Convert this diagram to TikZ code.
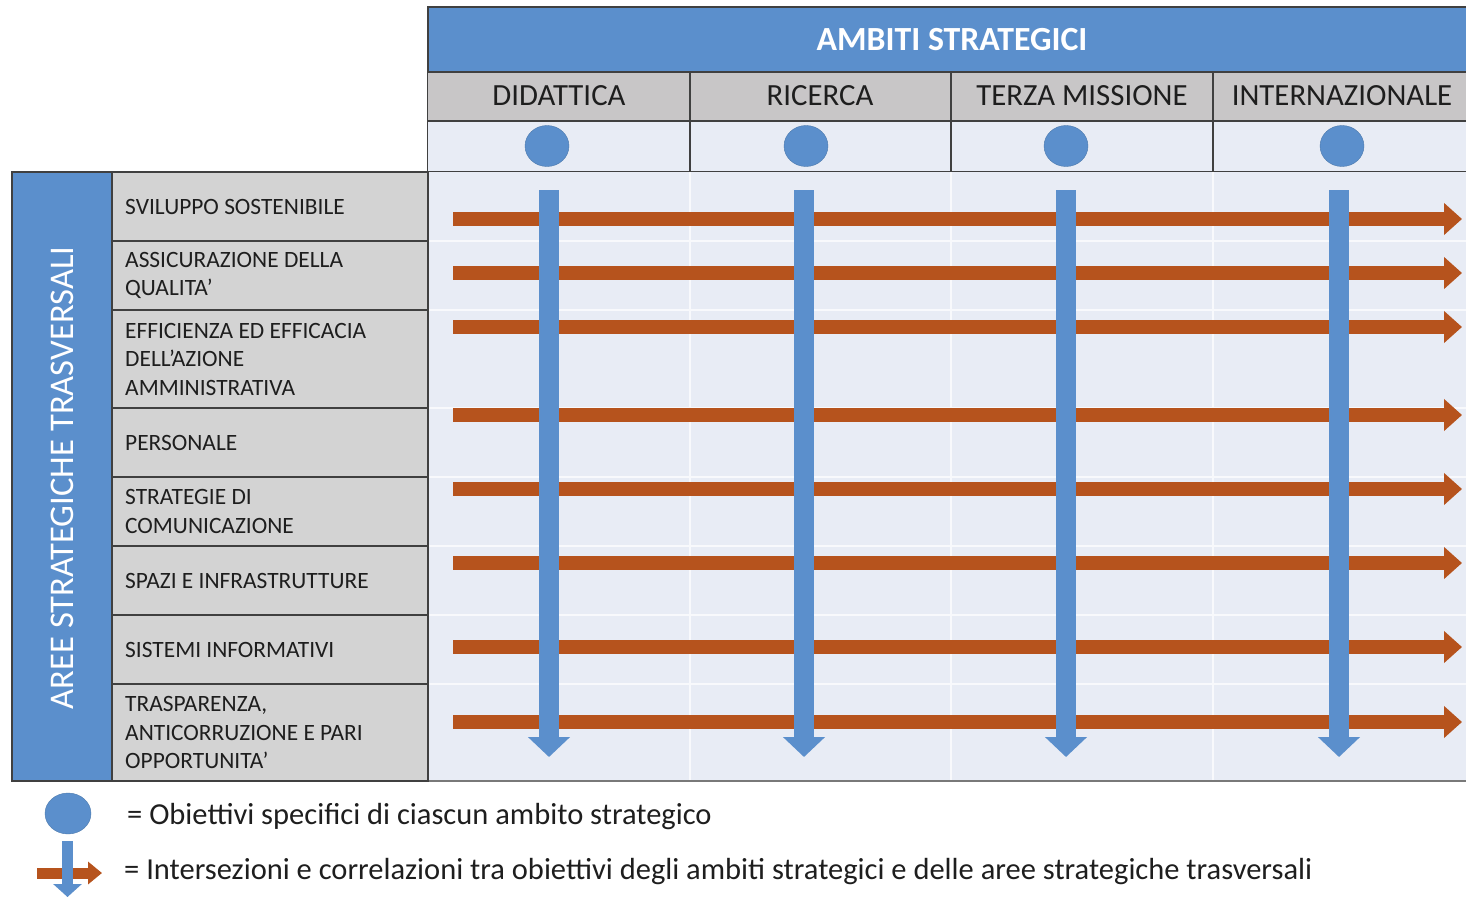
\documentclass[tikz,border=0pt]{standalone}
\usepackage{fontspec}
\setmainfont{Carlito}
\usetikzlibrary{arrows.meta,shapes.geometric}
\definecolor{hblue}{HTML}{5B8FCC}
\definecolor{hgray}{HTML}{C8C6C7}
\definecolor{lgray}{HTML}{D3D3D3}
\definecolor{lightbg}{HTML}{E8ECF5}
\definecolor{orng}{HTML}{B6531D}
\definecolor{bord}{HTML}{404040}
\definecolor{txt}{HTML}{1E1E1E}
\tikzset{
  cellborder/.style={draw=bord, line width=1.6pt},
  colhead/.style={font=\fontsize{30.8}{32}\selectfont, text=txt, inner sep=0pt},
  rowlabel/.style={font=\fontsize{23.4}{28.5}\selectfont, text=txt, anchor=west, align=left, inner sep=0pt},
  goal/.style={ellipse, fill=hblue, draw=hblue!85!black, line width=0.4pt, minimum width=44pt, minimum height=41pt, inner sep=0pt},
  harrow/.style={draw=orng, line width=14pt, -{Triangle[length=18pt,width=31pt]}},
  varrow/.style={draw=hblue, line width=20pt, -{Triangle[length=20pt,width=41pt]}},
  legtext/.style={font=\fontsize{30.5}{32}\selectfont, text=txt, anchor=west, inner sep=0pt},
  gridline/.style={draw=white!70!lightbg, line width=1.2pt}
}
\begin{document}
\begin{tikzpicture}[x=1pt,y=-1pt]
\useasboundingbox[fill=white] (0,0) rectangle (1466,897);
% header
\fill[hblue] (428,7) rectangle (1466,72);
\draw[cellborder] (1466,7) -- (428,7) -- (428,172);
\node[font=\bfseries\fontsize{33.8}{35}\selectfont, text=white, inner sep=0pt] (ambiti) at (952,40) {AMBITI STRATEGICI};
% column header row
\fill[hgray] (428,72) rectangle (1466,121);
\fill[lightbg] (428,121) rectangle (1466,172);
\draw[cellborder] (428,72) -- (1466,72);
\draw[cellborder] (428,121) -- (1466,121);
\draw[cellborder] (428,172) -- (1466,172);
\foreach \x in {690,951,1213} \draw[cellborder] (\x,72) -- (\x,172);
\node[colhead] (did) at (559,96) {DIDATTICA};
\node[colhead] (ric) at (820,96) {RICERCA};
\node[colhead] (ter) at (1082,96) {TERZA MISSIONE};
\node[colhead] (int) at (1342,96) {INTERNAZIONALE};
\node[goal] (g1) at (547,146) {};
\node[goal] (g2) at (806,146) {};
\node[goal] (g3) at (1066,146) {};
\node[goal] (g4) at (1342,146) {};
% matrix area
\fill[lightbg] (428,172) rectangle (1466,781);
\foreach \y in {241,310,408,477,546,615,684} \draw[gridline] (428,\y) -- (1466,\y);
\foreach \x in {690,951,1213} \draw[gridline] (\x,172) -- (\x,781);
\draw[cellborder, draw=bord!70] (428,781) -- (1466,781);
% left blue bar
\fill[hblue] (12,172) rectangle (112,781);
\draw[cellborder] (12,172) rectangle (112,781);
\node[rotate=90, font=\fontsize{34.6}{36}\selectfont, text=white, inner sep=0pt] (aree) at (62,478) {AREE STRATEGICHE TRASVERSALI};
% row labels
\fill[lgray] (112,172) rectangle (428,781);
\draw[cellborder] (112,172) rectangle (428,781);
\foreach \y in {241,310,408,477,546,615,684} \draw[cellborder] (112,\y) -- (428,\y);
\node[rowlabel] (r1) at (125,206.5) {SVILUPPO SOSTENIBILE};
\node[rowlabel] (r2) at (125,275.5) {ASSICURAZIONE DELLA\\QUALITA’};
\node[rowlabel] (r3) at (125,359) {EFFICIENZA ED EFFICACIA\\DELL’AZIONE\\AMMINISTRATIVA};
\node[rowlabel] (r4) at (125,442.5) {PERSONALE};
\node[rowlabel] (r5) at (125,511.5) {STRATEGIE DI\\COMUNICAZIONE};
\node[rowlabel] (r6) at (125,580.5) {SPAZI E INFRASTRUTTURE};
\node[rowlabel] (r7) at (125,649.5) {SISTEMI INFORMATIVI};
\node[rowlabel] (r8) at (125,732.5) {TRASPARENZA,\\ANTICORRUZIONE E PARI\\OPPORTUNITA’};
% horizontal orange arrows
\foreach \i/\y in {1/219,2/273,3/327,4/415,5/489,6/563,7/647,8/722}{
  \coordinate (hs\i) at (453,\y);
  \coordinate (he\i) at (1462,\y);
  \draw[harrow] (hs\i) -- (he\i);
}
% vertical blue arrows
\foreach \i/\x in {1/549,2/804,3/1066,4/1339}{
  \coordinate (vs\i) at (\x,190);
  \coordinate (ve\i) at (\x,757);
  \draw[varrow] (vs\i) -- (ve\i);
}
% legend
\node[goal, minimum width=46pt] (lg) at (68,813.5) {};
\node[legtext] (l1) at (127,817) {= Obiettivi specifici di ciascun ambito strategico};
\coordinate (lhs) at (37,873);
\coordinate (lhe) at (102,873);
\coordinate (lvs) at (67.5,841);
\coordinate (lve) at (67.5,897);
\draw[draw=orng, line width=11pt, -{Triangle[length=14pt,width=22pt]}] (lhs) -- (lhe);
\draw[draw=hblue, line width=11pt, -{Triangle[length=13pt,width=28pt]}] (lvs) -- (lve);
\node[legtext] (l2) at (124,872) {= Intersezioni e correlazioni tra obiettivi degli ambiti strategici e delle aree strategiche trasversali};
\end{tikzpicture}
\end{document}
